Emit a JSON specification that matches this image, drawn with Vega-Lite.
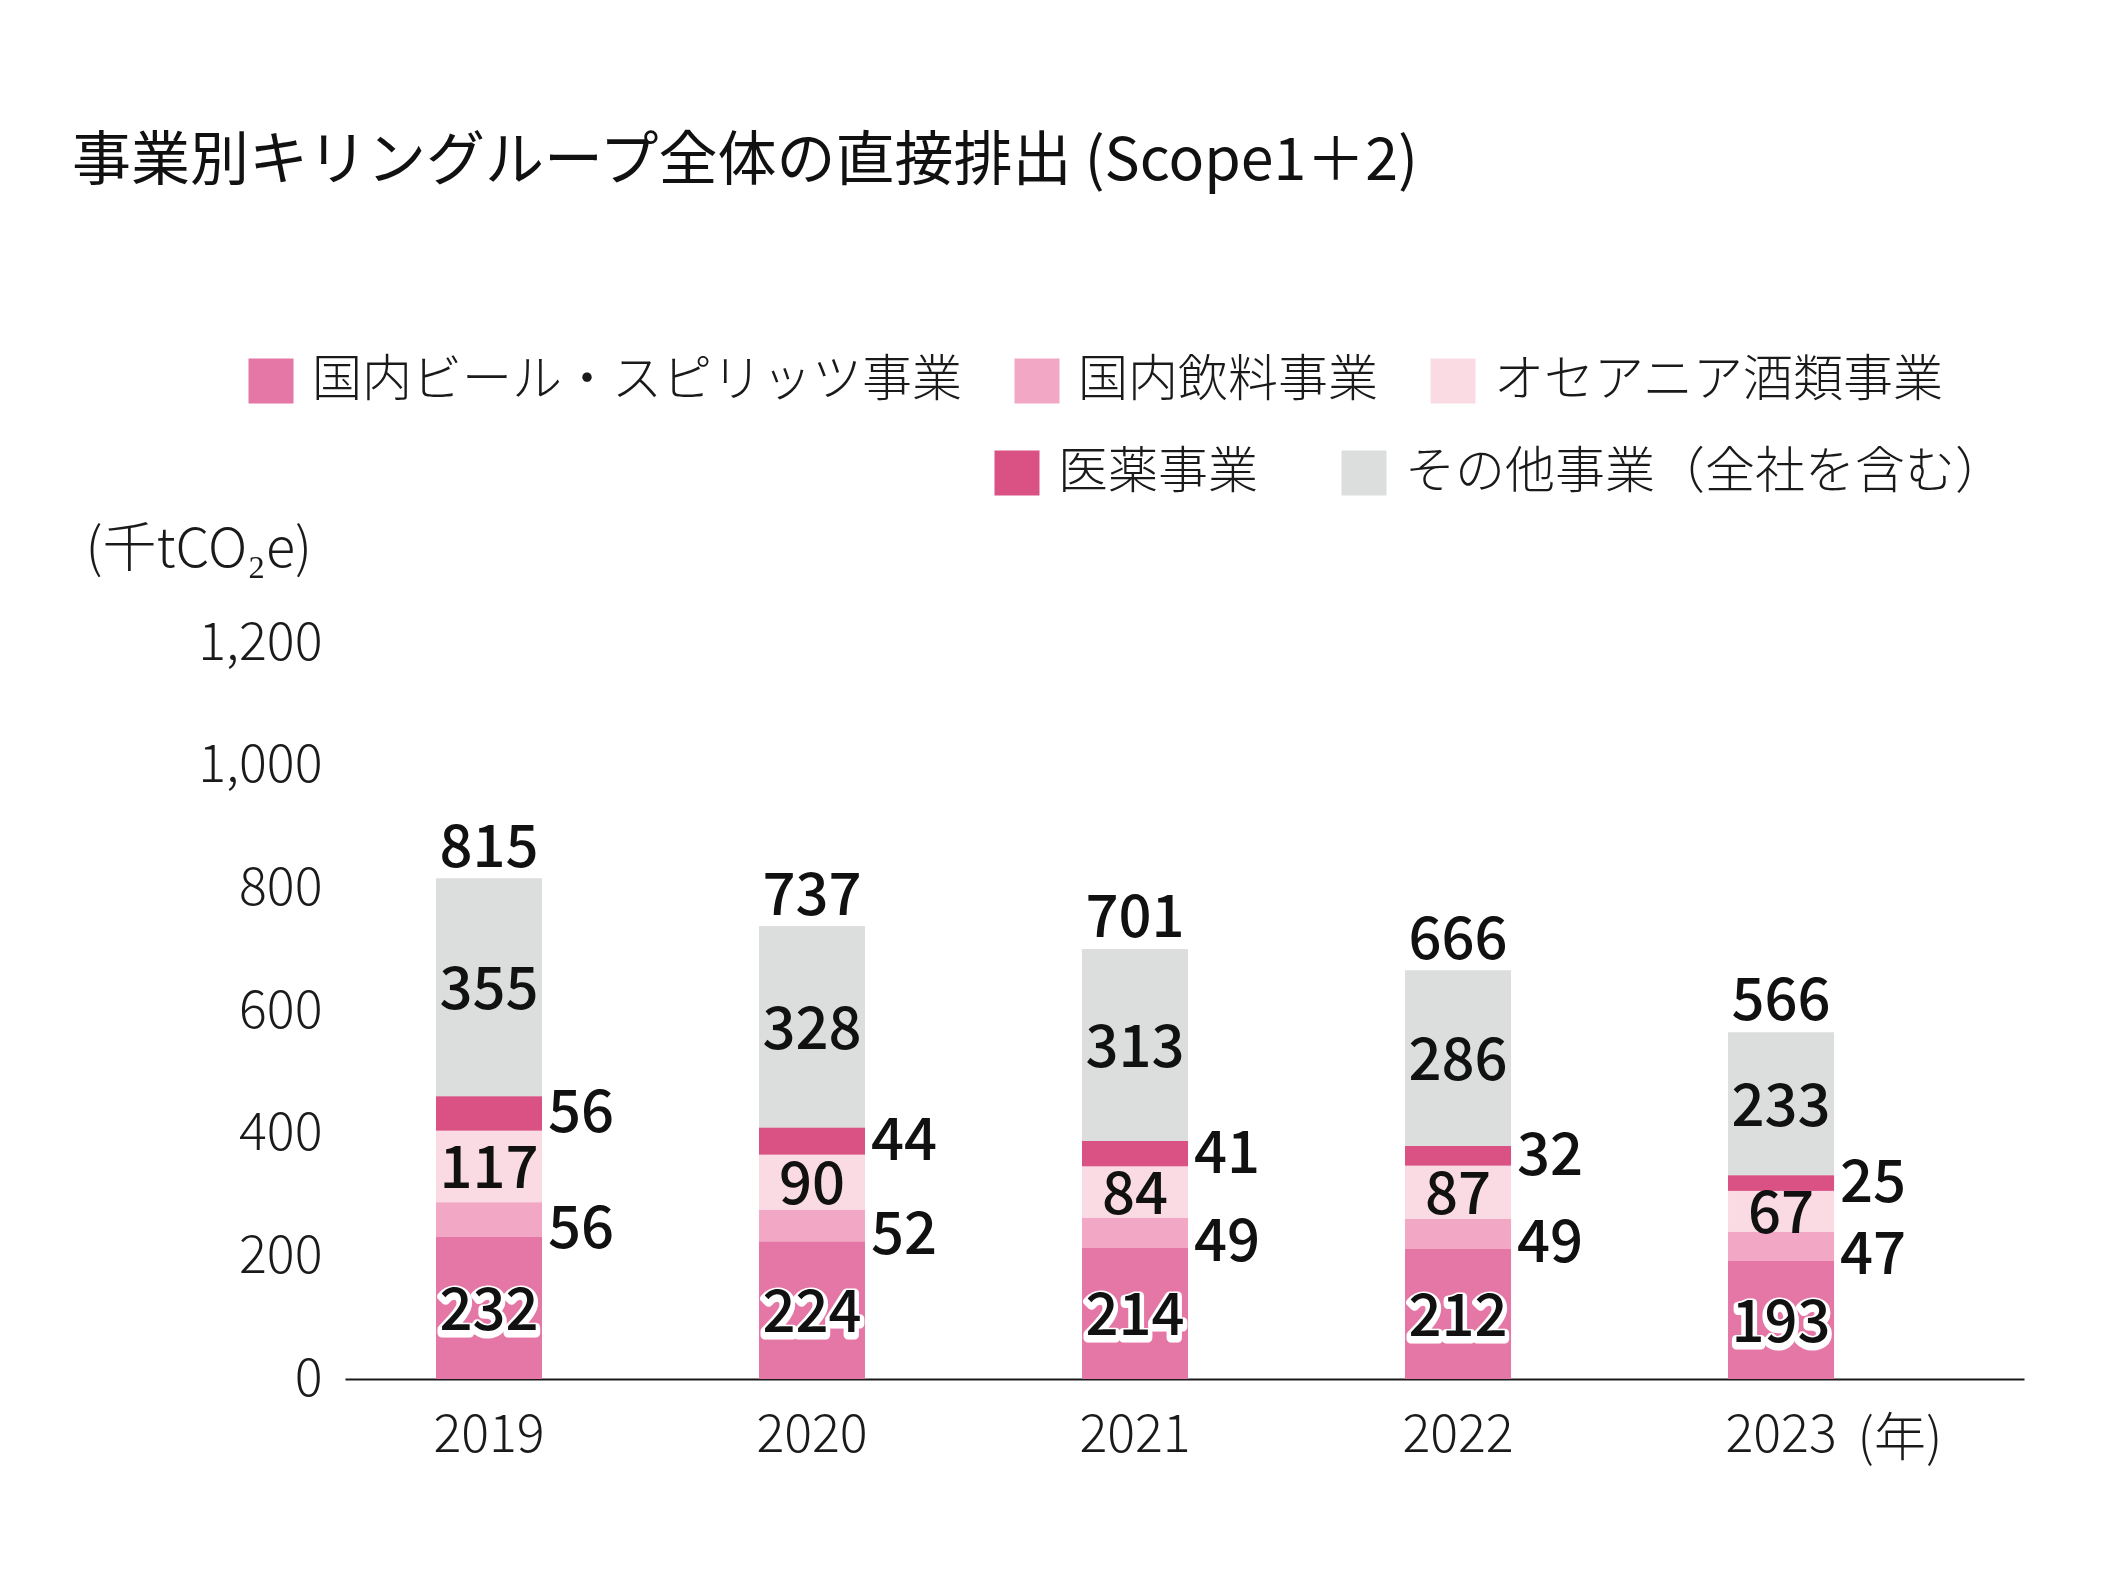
{
  "$schema": "https://vega.github.io/schema/vega-lite/v6.json",
  "width": 1679,
  "height": 736,
  "autosize": {"type": "none"},
  "padding": {"left": 345, "top": 643, "right": 104, "bottom": 203},
  "background": "white",
  "title": {
    "text": "事業別キリングループ全体の直接排出 (Scope1＋2)",
    "anchor": "start",
    "frame": "group",
    "dx": -273,
    "offset": 117,
    "baseline": "alphabetic",
    "fontSize": 59,
    "fontWeight": 400,
    "font": "Noto Sans CJK JP",
    "color": "#111111"
  },
  "datasets": {
    "bars": [
      {"year": "2019", "cat": "国内ビール・スピリッツ事業", "k": 1, "value": 232},
      {"year": "2019", "cat": "国内飲料事業", "k": 2, "value": 56},
      {"year": "2019", "cat": "オセアニア酒類事業", "k": 3, "value": 117},
      {"year": "2019", "cat": "医薬事業", "k": 4, "value": 56},
      {"year": "2019", "cat": "その他事業（全社を含む）", "k": 5, "value": 355},
      {"year": "2020", "cat": "国内ビール・スピリッツ事業", "k": 1, "value": 224},
      {"year": "2020", "cat": "国内飲料事業", "k": 2, "value": 52},
      {"year": "2020", "cat": "オセアニア酒類事業", "k": 3, "value": 90},
      {"year": "2020", "cat": "医薬事業", "k": 4, "value": 44},
      {"year": "2020", "cat": "その他事業（全社を含む）", "k": 5, "value": 328},
      {"year": "2021", "cat": "国内ビール・スピリッツ事業", "k": 1, "value": 214},
      {"year": "2021", "cat": "国内飲料事業", "k": 2, "value": 49},
      {"year": "2021", "cat": "オセアニア酒類事業", "k": 3, "value": 84},
      {"year": "2021", "cat": "医薬事業", "k": 4, "value": 41},
      {"year": "2021", "cat": "その他事業（全社を含む）", "k": 5, "value": 313},
      {"year": "2022", "cat": "国内ビール・スピリッツ事業", "k": 1, "value": 212},
      {"year": "2022", "cat": "国内飲料事業", "k": 2, "value": 49},
      {"year": "2022", "cat": "オセアニア酒類事業", "k": 3, "value": 87},
      {"year": "2022", "cat": "医薬事業", "k": 4, "value": 32},
      {"year": "2022", "cat": "その他事業（全社を含む）", "k": 5, "value": 286},
      {"year": "2023", "cat": "国内ビール・スピリッツ事業", "k": 1, "value": 193},
      {"year": "2023", "cat": "国内飲料事業", "k": 2, "value": 47},
      {"year": "2023", "cat": "オセアニア酒類事業", "k": 3, "value": 67},
      {"year": "2023", "cat": "医薬事業", "k": 4, "value": 25},
      {"year": "2023", "cat": "その他事業（全社を含む）", "k": 5, "value": 233}
    ],
    "totals": [
      {"year": "2019", "total": 815},
      {"year": "2020", "total": 737},
      {"year": "2021", "total": 701},
      {"year": "2022", "total": 666},
      {"year": "2023", "total": 566}
    ]
  },
  "layer": [
    {
      "data": {"name": "bars"},
      "mark": {"type": "bar"},
      "encoding": {
        "x": {
          "field": "year", "type": "nominal", "title": "(年)",
          "scale": {"paddingInner": 0.672, "paddingOuter": 0.435, "align": 0.324}
        },
        "y": {
          "field": "value", "type": "quantitative", "stack": "zero", "title": "(千tCO₂e)",
          "scale": {"domain": [0, 1200], "nice": false},
          "axis": {"values": [0, 200, 400, 600, 800, 1000, 1200], "format": ",d"}
        },
        "color": {
          "field": "cat", "type": "nominal",
          "scale": {
            "domain": ["国内ビール・スピリッツ事業", "国内飲料事業", "オセアニア酒類事業", "医薬事業", "その他事業（全社を含む）"],
            "range": ["#E577A6", "#F2A8C4", "#FADBE4", "#DA5284", "#DCDDDD"]
          },
          "legend": {
            "values": ["国内ビール・スピリッツ事業", "国内飲料事業", "オセアニア酒類事業"],
            "orient": "none", "legendX": -99, "legendY": -287, "direction": "horizontal", "title": null
          }
        },
        "order": {"field": "k", "type": "quantitative"}
      }
    },
    {
      "data": {"name": "bars"},
      "mark": {"type": "bar"},
      "encoding": {
        "x": {"field": "year", "type": "nominal", "title": "(年)"},
        "y": {"field": "value", "type": "quantitative", "stack": "zero", "title": "(千tCO₂e)", "axis": {"values": [0, 200, 400, 600, 800, 1000, 1200], "format": ",d"}},
        "color": {
          "field": "cat", "type": "nominal",
          "scale": {
            "domain": ["国内ビール・スピリッツ事業", "国内飲料事業", "オセアニア酒類事業", "医薬事業", "その他事業（全社を含む）"],
            "range": ["#E577A6", "#F2A8C4", "#FADBE4", "#DA5284", "#DCDDDD"]
          },
          "legend": {
            "values": ["医薬事業", "その他事業（全社を含む）"],
            "orient": "none", "legendX": 647, "legendY": -195, "direction": "horizontal", "title": null,
            "columnPadding": 81
          }
        },
        "order": {"field": "k", "type": "quantitative"}
      }
    },
    {
      "data": {"name": "bars"},
      "mark": {"type": "text", "font": "Noto Sans CJK JP", "fontSize": 58, "fontWeight": 500, "color": "#111111", "baseline": "middle", "align": "center", "dy": 8, "stroke": "white", "strokeWidth": 9, "strokeJoin": "round"},
      "encoding": {
        "x": {"field": "year", "type": "nominal", "title": "(年)"},
        "y": {"field": "value", "type": "quantitative", "stack": "zero", "bandPosition": 0.5, "title": "(千tCO₂e)", "axis": {"values": [0, 200, 400, 600, 800, 1000, 1200], "format": ",d"}},
        "detail": {"field": "cat"},
        "order": {"field": "k", "type": "quantitative"},
        "text": {"condition": {"test": "datum.k != 1", "value": ""}, "field": "value", "type": "quantitative"}
      }
    },
    {
      "data": {"name": "bars"},
      "mark": {"type": "text", "font": "Noto Sans CJK JP", "fontSize": 58, "fontWeight": 500, "color": "#111111", "baseline": "middle", "align": "center", "dy": 5},
      "encoding": {
        "x": {"field": "year", "type": "nominal", "title": "(年)"},
        "y": {"field": "value", "type": "quantitative", "stack": "zero", "bandPosition": 0.5, "title": "(千tCO₂e)", "axis": {"values": [0, 200, 400, 600, 800, 1000, 1200], "format": ",d"}},
        "detail": {"field": "cat"},
        "order": {"field": "k", "type": "quantitative"},
        "text": {"condition": {"test": "datum.k == 2 || datum.k == 4", "value": ""}, "field": "value", "type": "quantitative"}
      }
    },
    {
      "data": {"name": "bars"},
      "mark": {"type": "text", "font": "Noto Sans CJK JP", "fontSize": 58, "fontWeight": 500, "color": "#111111", "baseline": "middle", "align": "left", "dx": 6, "dy": 11},
      "encoding": {
        "x": {"field": "year", "type": "nominal", "bandPosition": 1, "title": "(年)"},
        "y": {"field": "value", "type": "quantitative", "stack": "zero", "bandPosition": 0.5, "title": "(千tCO₂e)", "axis": {"values": [0, 200, 400, 600, 800, 1000, 1200], "format": ",d"}},
        "detail": {"field": "cat"},
        "order": {"field": "k", "type": "quantitative"},
        "text": {"condition": {"test": "datum.k != 2", "value": ""}, "field": "value", "type": "quantitative"}
      }
    },
    {
      "data": {"name": "bars"},
      "mark": {"type": "text", "font": "Noto Sans CJK JP", "fontSize": 58, "fontWeight": 500, "color": "#111111", "baseline": "middle", "align": "left", "dx": 6, "dy": 2},
      "encoding": {
        "x": {"field": "year", "type": "nominal", "bandPosition": 1, "title": "(年)"},
        "y": {"field": "value", "type": "quantitative", "stack": "zero", "bandPosition": 0.5, "title": "(千tCO₂e)", "axis": {"values": [0, 200, 400, 600, 800, 1000, 1200], "format": ",d"}},
        "detail": {"field": "cat"},
        "order": {"field": "k", "type": "quantitative"},
        "text": {"condition": {"test": "datum.k != 4", "value": ""}, "field": "value", "type": "quantitative"}
      }
    },
    {
      "data": {"name": "totals"},
      "mark": {"type": "text", "font": "Noto Sans CJK JP", "fontSize": 58, "fontWeight": 500, "color": "#111111", "baseline": "alphabetic", "align": "center", "dy": -12},
      "encoding": {
        "x": {"field": "year", "type": "nominal", "title": "(年)"},
        "y": {"field": "total", "type": "quantitative", "title": "(千tCO₂e)", "axis": {"values": [0, 200, 400, 600, 800, 1000, 1200], "format": ",d"}},
        "text": {"field": "total", "type": "quantitative"}
      }
    }
  ],
  "resolve": {"scale": {"color": "independent"}, "legend": {"color": "independent"}},
  "config": {
    "view": {"stroke": null},
    "font": "Noto Sans CJK JP",
    "axis": {
      "labelFont": "Noto Sans CJK JP", "titleFont": "Noto Sans CJK JP",
      "labelColor": "#1a1a1a", "titleColor": "#1a1a1a",
      "grid": false, "ticks": false
    },
    "axisX": {
      "labelAngle": 0, "labelFontSize": 52, "labelFontWeight": 300, "labelPadding": 31, "labelBaseline": "top",
      "domainColor": "#1a1a1a", "domainWidth": 2,
      "titleFontSize": 52, "titleFontWeight": 300, "titleX": 1512, "titleY": 60, "titleAlign": "left", "titleBaseline": "middle"
    },
    "axisY": {
      "domain": false, "labelFontSize": 52, "labelFontWeight": 300, "labelPadding": 23, "labelBaseline": "middle",
      "titleAngle": 0, "titleAlign": "left", "titleBaseline": "middle", "titleX": -260, "titleY": -93,
      "titleFontSize": 54, "titleFontWeight": 300
    },
    "legend": {
      "labelFont": "Noto Sans CJK JP", "labelFontSize": 50, "labelFontWeight": 300, "labelColor": "#1a1a1a",
      "symbolType": "square", "symbolSize": 2025, "symbolStrokeWidth": 0, "labelOffset": 16,
      "columnPadding": 50, "labelLimit": 2000, "padding": 0
    }
  }
}
